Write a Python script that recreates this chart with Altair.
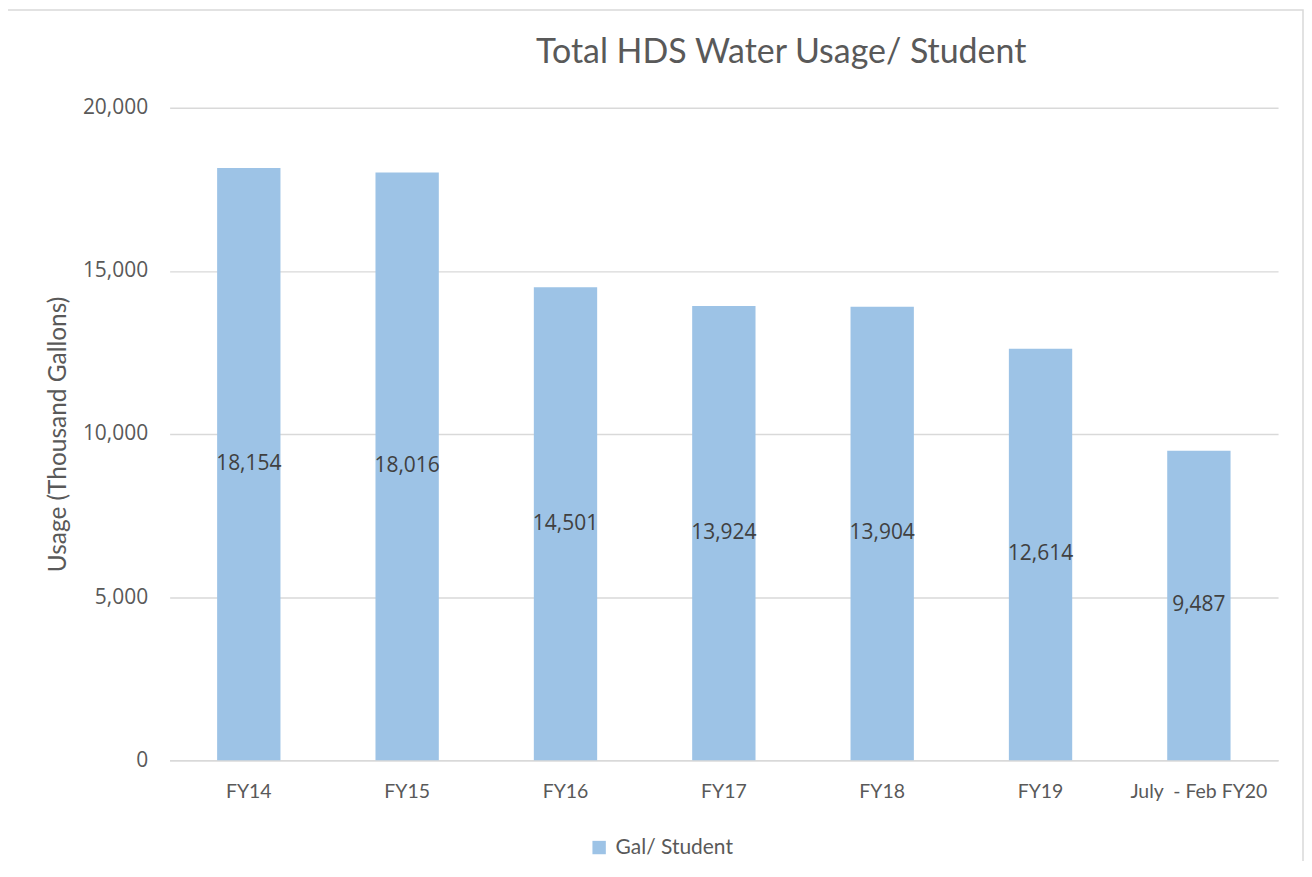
import altair as alt
import pandas as pd

categories = ["FY14", "FY15", "FY16", "FY17", "FY18", "FY19", "July  - Feb FY20"]
values = [18154, 18016, 14501, 13924, 13904, 12614, 9487]
series_name = "Gal/ Student"
title_text = ["Total HDS Water Usage/ Student"]

df = pd.DataFrame({"cat": categories, "val": values, "series": [series_name] * len(values)})
df["half"] = df["val"] / 2

W, H = 1111, 654

xaxis = alt.Axis(title=None, labelAngle=0, ticks=False, domainColor="#d9d9d9",
                 domainWidth=1.5, labelFont="Lato", labelFontSize=19.5,
                 labelColor="#595959", labelPadding=22, grid=False,
                 labelExpr="replace(datum.label, '  ', '\u00a0 ')")
xscale = alt.Scale(paddingInner=0.6, paddingOuter=0.3)
yscale = alt.Scale(domain=[0, 20000], nice=False)
yaxis = alt.Axis(title="Usage (Thousand Gallons)", values=[0, 5000, 10000, 15000, 20000],
                 format=",.0f", ticks=False, domain=False, gridColor="#d9d9d9",
                 gridWidth=1.5, labelFont="Open Sans", labelFontSize=21,
                 labelColor="#595959", labelPadding=22,
                 titleFont="Lato", titleFontSize=24.5, titleFontWeight="normal",
                 titleColor="#595959", titlePadding=12)

border = alt.Chart(pd.DataFrame({"a": [0]})).mark_rect(
    fill="transparent", stroke="#d9d9d9", strokeWidth=1.5, clip=False
).encode(x=alt.value(-167), x2=alt.value(1136), y=alt.value(-98), y2=alt.value(790))

title = alt.Chart(pd.DataFrame({"t": title_text})).mark_text(
    font="Lato", fontSize=34, color="#595959", align="center", baseline="alphabetic"
).encode(x=alt.value(613), y=alt.value(-45), text="t:N")

bars = alt.Chart(df).mark_bar(clip=False).encode(
    x=alt.X("cat:N", sort=categories, scale=xscale, axis=xaxis),
    y=alt.Y("val:Q", scale=yscale, axis=yaxis),
    color=alt.Color("series:N", scale=alt.Scale(range=["#9dc3e6"]),
                    legend=alt.Legend(title=None, orient="none", legendX=420, legendY=731,
                                      symbolType="square", symbolSize=180,
                                      symbolStrokeWidth=0,
                                      labelFont="Lato", labelFontSize=21,
                                      labelColor="#595959", labelOffset=6)),
)

labels = alt.Chart(df).mark_text(font="Open Sans", fontSize=21, color="#404040").encode(
    x=alt.X("cat:N", sort=categories, scale=xscale, axis=xaxis),
    y=alt.Y("half:Q", scale=yscale, axis=yaxis),
    text=alt.Text("val:Q", format=","),
)

chart = alt.layer(border, title, bars, labels).properties(
    width=W, height=H,
    autosize=alt.AutoSizeParams(type="none"),
    padding={"left": 162, "top": 99, "right": 26, "bottom": 100},
).configure_view(stroke=None)

chart.save("out.html", embed_options={"renderer": "svg", "actions": False})
